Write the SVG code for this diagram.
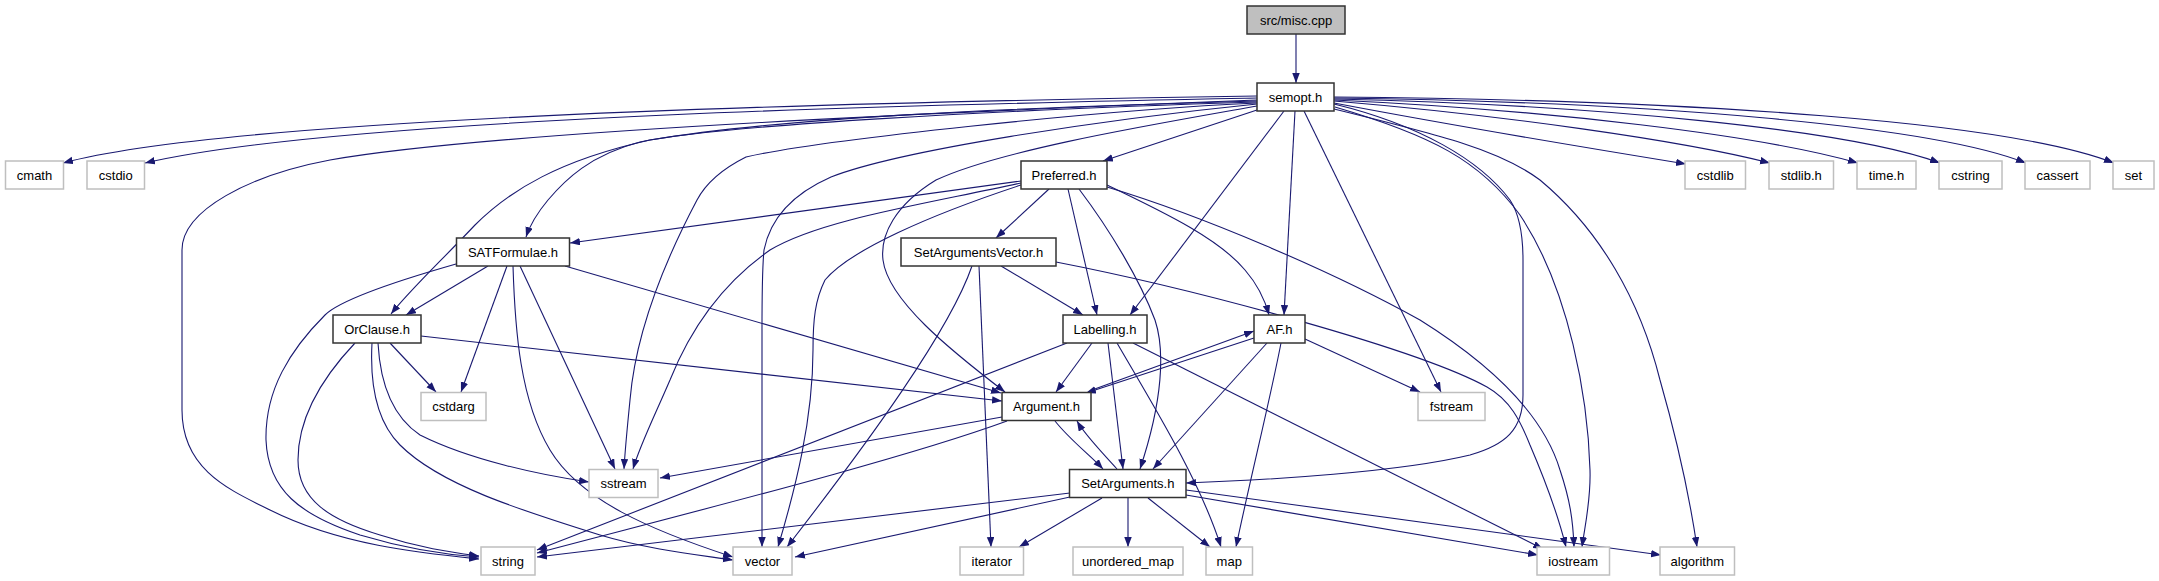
<svg xmlns="http://www.w3.org/2000/svg" width="2159" height="581" viewBox="0 0 2159 581">
<defs>
<marker id="arr" markerUnits="userSpaceOnUse" markerWidth="11" markerHeight="8" refX="10" refY="3.75" orient="auto">
<path d="M0,0 L10,3.75 L0,7.5 z" fill="#191970"/>
</marker>
<style>
.e{fill:none;stroke:#191970;stroke-width:1.1;marker-end:url(#arr)}
.n rect{fill:#fff;stroke:#333;stroke-width:1.5}
.x rect{fill:#fff;stroke:#bfbfbf;stroke-width:1.5}
.r rect{fill:#bfbfbf;stroke:#333;stroke-width:1.5}
text{font-family:"Liberation Sans",Arial,sans-serif;font-size:13px;fill:#000;text-anchor:middle}
</style>
</defs>
<rect width="2159" height="581" fill="#fff"/>
<g id="edges">
<path class="e" d="M1296,34 L1296,83"/>
<path class="e" d="M1257,96 C1000,100 250,112 63,163"/>
<path class="e" d="M1257,98 C1000,103 350,115 145,163"/>
<path class="e" d="M1257,100 C1000,110 500,130 330,160 C250,175 182,210 182,250 L182,410 C182,470 230,490 270,510 C340,545 420,553 479,559"/>
<path class="e" d="M1257,101 C1000,108 780,118 650,140 C560,160 510,190 475,225 C440,262 410,290 391,314"/>
<path class="e" d="M1257,102 C1000,110 720,125 640,142 C590,155 565,180 548,200 C538,212 530,225 526,237"/>
<path class="e" d="M1257,103 C1100,110 820,140 746,157 C720,170 705,185 697,200 C660,270 635,340 630,400 C627,430 625,450 624,469"/>
<path class="e" d="M1257,104 C1100,120 900,150 831,177 C790,195 770,220 764,250 C762,270 762,300 762,330 L762,547"/>
<path class="e" d="M1257,106 C1150,125 1000,150 936,180 C895,205 880,235 883,260 C888,300 950,350 1005,392"/>
<path class="e" d="M1257,110 L1103,161"/>
<path class="e" d="M1284,111 L1130,315"/>
<path class="e" d="M1295,111 L1284,315"/>
<path class="e" d="M1304,111 L1441,392"/>
<path class="e" d="M1334,104 C1420,125 1480,160 1510,200 C1520,215 1523,235 1523,260 L1523,395 C1523,430 1505,445 1470,455 C1400,472 1270,480 1186,483"/>
<path class="e" d="M1335,107 C1430,135 1480,160 1520,215 C1570,290 1588,400 1590,470 C1591,500 1585,525 1582,547"/>
<path class="e" d="M1334,109 C1440,135 1500,150 1540,180 C1600,230 1640,300 1660,380 C1680,450 1690,500 1697,547"/>
<path class="e" d="M1334,103 C1450,125 1600,150 1686,164"/>
<path class="e" d="M1334,101 C1500,115 1680,140 1770,163"/>
<path class="e" d="M1334,100 C1550,110 1760,135 1858,163"/>
<path class="e" d="M1334,99 C1600,105 1850,130 1940,163"/>
<path class="e" d="M1334,98 C1650,102 1930,125 2026,163"/>
<path class="e" d="M1334,97 C1700,100 2010,122 2114,163"/>
<path class="e" d="M1021,181 L570,243"/>
<path class="e" d="M1021,183 C920,205 820,220 770,250 C720,285 690,330 670,380 C655,415 640,445 633,469"/>
<path class="e" d="M1021,185 C930,215 850,250 825,280 C815,300 813,320 813,350 C813,420 795,490 778,547"/>
<path class="e" d="M1049,189 L996,238"/>
<path class="e" d="M1068,189 L1097,315"/>
<path class="e" d="M1079,189 C1110,230 1140,280 1155,320 C1165,350 1163,400 1140,469"/>
<path class="e" d="M1107,185 C1170,215 1220,240 1245,270 C1258,285 1265,300 1269,315"/>
<path class="e" d="M1107,187 C1200,215 1330,270 1420,320 C1500,370 1545,420 1560,470 C1570,500 1573,520 1574,547"/>
<path class="e" d="M1001,266 L1083,315"/>
<path class="e" d="M972,266 C950,330 870,440 787,547"/>
<path class="e" d="M979,266 L991,547"/>
<path class="e" d="M1056,262 C1200,290 1420,350 1487,387 C1510,400 1520,420 1530,445 C1545,480 1558,515 1566,547"/>
<path class="e" d="M421,336 L1002,401"/>
<path class="e" d="M390,343 L436,392"/>
<path class="e" d="M378,343 C380,380 390,415 420,435 C470,460 540,475 589,482"/>
<path class="e" d="M355,343 C320,380 298,420 298,460 C298,500 330,520 380,535 C420,548 450,552 479,556"/>
<path class="e" d="M372,343 C370,380 375,420 400,445 C440,485 520,510 600,535 C650,550 700,555 733,560"/>
<path class="e" d="M488,266 L406,315"/>
<path class="e" d="M507,266 L461,392"/>
<path class="e" d="M456,264 C400,280 340,300 325,315 C290,350 265,390 266,440 C268,490 300,515 360,535 C410,550 450,555 479,557"/>
<path class="e" d="M513,266 C515,330 520,400 550,450 C580,500 650,530 733,557"/>
<path class="e" d="M520,266 L615,469"/>
<path class="e" d="M565,266 L1001,393"/>
<path class="e" d="M1092,343 L1056,392"/>
<path class="e" d="M1108,343 L1123,469"/>
<path class="e" d="M1067,343 L537,550"/>
<path class="e" d="M1117,343 C1150,400 1200,480 1221,547"/>
<path class="e" d="M1133,343 L1543,549"/>
<path class="e" d="M1092,390 L1254,331"/>
<path class="e" d="M1254,338 L1086,393"/>
<path class="e" d="M1267,343 L1153,469"/>
<path class="e" d="M1281,343 C1270,400 1250,480 1236,547"/>
<path class="e" d="M1305,339 L1420,392"/>
<path class="e" d="M1055,421 C1070,440 1090,455 1103,469"/>
<path class="e" d="M1002,417 L660,478"/>
<path class="e" d="M1007,421 C900,460 700,510 537,553"/>
<path class="e" d="M1117,469 C1100,450 1085,435 1077,421"/>
<path class="e" d="M1070,493 L537,557"/>
<path class="e" d="M1070,497 L795,557"/>
<path class="e" d="M1102,498 L1019,547"/>
<path class="e" d="M1128,498 L1128,547"/>
<path class="e" d="M1148,498 L1210,547"/>
<path class="e" d="M1186,495 L1538,555"/>
<path class="e" d="M1186,490 L1661,555"/>
</g>
<g id="n_misc" class="r"><rect x="1247" y="6" width="98" height="28"/><text x="1296" y="24.5">src/misc.cpp</text></g>
<g id="n_semopt" class="n"><rect x="1257" y="83" width="77" height="28"/><text x="1295.5" y="101.5">semopt.h</text></g>
<g id="n_cmath" class="x"><rect x="5.5" y="161" width="58" height="28"/><text x="34.5" y="179.5">cmath</text></g>
<g id="n_cstdio" class="x"><rect x="87" y="161" width="57.5" height="28"/><text x="115.75" y="179.5">cstdio</text></g>
<g id="n_preferred" class="n"><rect x="1021" y="161" width="86" height="28"/><text x="1064" y="179.5">Preferred.h</text></g>
<g id="n_cstdlib" class="x"><rect x="1685" y="161" width="60.5" height="28"/><text x="1715.25" y="179.5">cstdlib</text></g>
<g id="n_stdlib" class="x"><rect x="1769" y="161" width="64.5" height="28"/><text x="1801.25" y="179.5">stdlib.h</text></g>
<g id="n_time" class="x"><rect x="1857" y="161" width="59" height="28"/><text x="1886.5" y="179.5">time.h</text></g>
<g id="n_cstring" class="x"><rect x="1939" y="161" width="63" height="28"/><text x="1970.5" y="179.5">cstring</text></g>
<g id="n_cassert" class="x"><rect x="2025" y="161" width="65" height="28"/><text x="2057.5" y="179.5">cassert</text></g>
<g id="n_set" class="x"><rect x="2113" y="161" width="41" height="28"/><text x="2133.5" y="179.5">set</text></g>
<g id="n_satformulae" class="n"><rect x="456.5" y="238" width="113" height="28"/><text x="513" y="256.5">SATFormulae.h</text></g>
<g id="n_setargvec" class="n"><rect x="901" y="238" width="155" height="28"/><text x="978.5" y="256.5">SetArgumentsVector.h</text></g>
<g id="n_orclause" class="n"><rect x="333" y="315" width="88" height="28"/><text x="377" y="333.5">OrClause.h</text></g>
<g id="n_labelling" class="n"><rect x="1063" y="315" width="84" height="28"/><text x="1105" y="333.5">Labelling.h</text></g>
<g id="n_af" class="n"><rect x="1254" y="315" width="51" height="28"/><text x="1279.5" y="333.5">AF.h</text></g>
<g id="n_cstdarg" class="x"><rect x="421" y="392.5" width="65" height="28"/><text x="453.5" y="411">cstdarg</text></g>
<g id="n_argument" class="n"><rect x="1002" y="392.5" width="89" height="28"/><text x="1046.5" y="411">Argument.h</text></g>
<g id="n_fstream" class="x"><rect x="1418" y="392.5" width="67" height="28"/><text x="1451.5" y="411">fstream</text></g>
<g id="n_sstream" class="x"><rect x="589" y="469.5" width="69" height="28"/><text x="623.5" y="488">sstream</text></g>
<g id="n_setarguments" class="n"><rect x="1069.5" y="469.5" width="116.5" height="28"/><text x="1127.75" y="488">SetArguments.h</text></g>
<g id="n_string" class="x"><rect x="481" y="547" width="54" height="28"/><text x="508" y="565.5">string</text></g>
<g id="n_vector" class="x"><rect x="733" y="547" width="59" height="28"/><text x="762.5" y="565.5">vector</text></g>
<g id="n_iterator" class="x"><rect x="960" y="547" width="63.5" height="28"/><text x="991.75" y="565.5">iterator</text></g>
<g id="n_unordered_map" class="x"><rect x="1073" y="547" width="110" height="28"/><text x="1128" y="565.5">unordered_map</text></g>
<g id="n_map" class="x"><rect x="1206" y="547" width="46.5" height="28"/><text x="1229.25" y="565.5">map</text></g>
<g id="n_iostream" class="x"><rect x="1537" y="547" width="72.5" height="28"/><text x="1573.25" y="565.5">iostream</text></g>
<g id="n_algorithm" class="x"><rect x="1660" y="547" width="74.5" height="28"/><text x="1697.25" y="565.5">algorithm</text></g>
</svg>
